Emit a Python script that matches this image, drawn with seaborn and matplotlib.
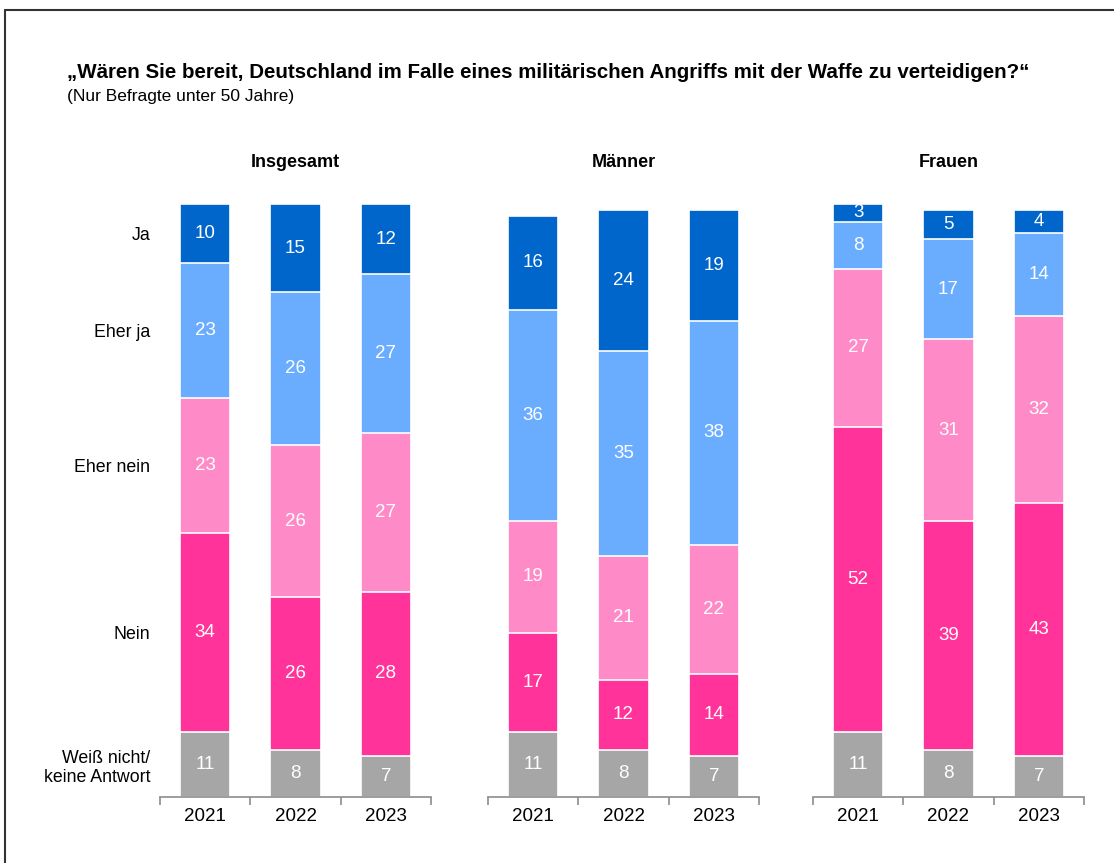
import pandas as pd
import matplotlib.pyplot as plt
import seaborn as sns

# data (percent), stacked bottom -> top
panels = ["Insgesamt", "Männer", "Frauen"]
years = ["2021", "2022", "2023"]
categories = ["Weiß nicht/\nkeine Antwort", "Nein", "Eher nein", "Eher ja", "Ja"]
colors = ["#A6A6A6", "#FF3399", "#FF8AC8", "#6AADFF", "#0066CC"]

weiss_nicht = {"Insgesamt": [11, 8, 7], "Männer": [11, 8, 7], "Frauen": [11, 8, 7]}
nein = {"Insgesamt": [34, 26, 28], "Männer": [17, 12, 14], "Frauen": [52, 39, 43]}
eher_nein = {"Insgesamt": [23, 26, 27], "Männer": [19, 21, 22], "Frauen": [27, 31, 32]}
eher_ja = {"Insgesamt": [23, 26, 27], "Männer": [36, 35, 38], "Frauen": [8, 17, 14]}
ja = {"Insgesamt": [10, 15, 12], "Männer": [16, 24, 19], "Frauen": [3, 5, 4]}

series = [weiss_nicht, nein, eher_nein, eher_ja, ja]

rows = []
for p in panels:
    for i, y in enumerate(years):
        cum = 0
        for cat, s in zip(categories, series):
            v = s[p][i]
            cum += v
            rows.append({"panel": p, "year": y, "category": cat, "value": v, "top": cum})
df = pd.DataFrame(rows)

sns.set_theme(style="white")
plt.rcParams["font.family"] = ["Liberation Sans", "DejaVu Sans"]
plt.rcParams["text.color"] = "black"

fig = plt.figure(figsize=(11.14, 8.63), dpi=100)

lefts = [160 / 1114, 488 / 1114, 813 / 1114]
width = 271 / 1114
bottom = 1 - 797 / 863
height = (797 - 204) / 863

for k, p in enumerate(panels):
    ax = fig.add_axes([lefts[k], bottom, width, height])
    sub = df[df["panel"] == p]
    # draw cumulative heights from the top category down so they stack
    for cat, col in reversed(list(zip(categories, colors))):
        d = sub[sub["category"] == cat]
        sns.barplot(data=d, x="year", y="top", order=years, color=col,
                    width=0.555, edgecolor="white", linewidth=1.2,
                    saturation=1, ax=ax)
    for _, r in sub.iterrows():
        xi = years.index(r["year"])
        ax.text(xi, r["top"] - r["value"] / 2, str(r["value"]), ha="center",
                va="center", color="white", fontsize=13.5)

    ax.set_xlim(-0.5, 2.5)
    ax.set_ylim(0, 101)
    ax.set_xlabel("")
    ax.set_ylabel("")
    sns.despine(ax=ax, left=True)
    ax.spines["bottom"].set_color("#8C8C8C")
    ax.spines["bottom"].set_linewidth(1.2)
    ax.set_xticks([-0.5, 0.5, 1.5, 2.5], minor=True)
    ax.tick_params(axis="x", which="minor", length=6, width=1.2, color="#8C8C8C",
                   direction="out", bottom=True)
    ax.tick_params(axis="x", which="major", length=0, labelsize=13.5, pad=8,
                   labelcolor="black")
    ax.set_title(p, fontsize=13, fontweight="bold", pad=27, color="black")

    if k == 0:
        first = sub[sub["year"] == years[0]]
        ax.set_yticks(first["top"] - first["value"] / 2)
        ax.set_yticklabels(categories)
        ax.tick_params(axis="y", length=0, labelsize=12.8, pad=7, labelcolor="black")
    else:
        ax.set_yticks([])

fig.text(67 / 1114, 1 - 73 / 863, "\u201eWären Sie bereit, Deutschland im Falle eines militärischen Angriffs mit der Waffe zu verteidigen?\u201c",
         fontsize=14.8, fontweight="bold", va="center", ha="left", color="black")
fig.text(67 / 1114, 1 - 96 / 863, "(Nur Befragte unter 50 Jahre)", fontsize=12.5,
         va="center", ha="left", color="black")

# frame lines (top and left)
fig.add_artist(plt.Line2D([5 / 1114, 1], [1 - 10 / 863, 1 - 10 / 863], color="#333333", lw=1.5))
fig.add_artist(plt.Line2D([5 / 1114, 5 / 1114], [0, 1 - 10 / 863], color="#333333", lw=1.5))

fig.savefig("out.png", dpi=100)
